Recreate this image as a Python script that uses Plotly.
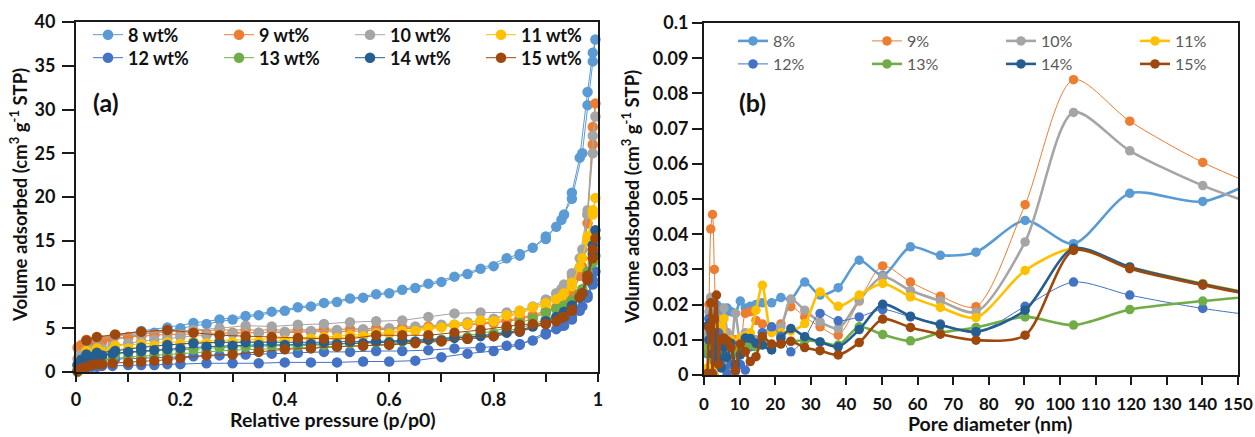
import plotly.graph_objects as go

W, H = 1255, 437

# ---------------- (a) nitrogen isotherms ----------------
P_ADS = [0.003, 0.01, 0.02, 0.03, 0.04, 0.05, 0.07, 0.1, 0.125, 0.15, 0.175, 0.2,
         0.25, 0.3, 0.35, 0.4, 0.45, 0.5, 0.55, 0.6, 0.65, 0.7, 0.75, 0.8, 0.85,
         0.9, 0.93, 0.95, 0.97, 0.98, 0.99, 0.995]
P_DES = [0.99, 0.98, 0.965, 0.95, 0.935, 0.92, 0.9, 0.875, 0.85, 0.825, 0.775,
         0.725, 0.675, 0.625, 0.575, 0.525, 0.475, 0.425, 0.375, 0.325, 0.275,
         0.225, 0.175, 0.125, 0.075, 0.04, 0.02]

ADS_8 = [0.8, 1.8, 2.5, 2.9, 3.2, 3.4, 3.7, 4.0, 4.3, 4.5, 4.7, 5.0, 5.5, 6.0, 6.5,
         7.0, 7.5, 8.0, 8.5, 9.0, 9.6, 10.3, 11.2, 12.1, 13.3, 15.2, 17.4, 19.8,
         25.0, 30.5, 35.5, 38.0]
DES_8 = [36.5, 32.0, 24.5, 20.5, 18.0, 16.6, 15.5, 14.2, 13.5, 13.0, 11.8, 10.9,
         10.1, 9.4, 8.9, 8.4, 7.9, 7.4, 6.9, 6.4, 6.0, 5.6, 5.1, 4.7, 4.2, 3.6, 3.0]

ADS_9 = [2.8, 3.1, 3.3, 3.4, 3.5, 3.6, 3.8, 4.0, 4.1, 4.2, 4.3, 4.3, 4.4, 4.5, 4.5,
         4.5, 4.6, 4.6, 4.7, 4.9, 5.0, 5.2, 5.4, 5.6, 6.0, 6.8, 7.6, 8.5, 12.0,
         18.0, 26.0, 30.7]
DES_9 = [28.0, 17.0, 11.0, 9.0, 8.0, 7.4, 7.0, 6.5, 6.2, 5.9, 5.6, 5.4, 5.2, 5.1,
         5.0, 4.9, 4.9, 4.8, 4.8, 4.8, 4.8, 4.7, 4.6, 4.4, 4.2, 3.9, 3.7]

ADS_10 = [1.5, 2.0, 2.3, 2.5, 2.6, 2.7, 3.0, 3.3, 3.5, 3.7, 3.8, 4.0, 4.2, 4.4, 4.5,
          4.6, 4.7, 4.8, 4.9, 5.0, 5.2, 5.4, 5.7, 6.1, 6.8, 8.0, 9.5, 11.0, 14.0,
          18.0, 25.0, 29.2]
DES_10 = [27.0, 18.5, 13.0, 11.3, 10.0, 9.0, 8.3, 7.5, 7.0, 6.8, 6.8, 6.7, 6.3, 5.9,
          5.8, 5.7, 5.5, 5.4, 5.2, 5.3, 5.0, 4.8, 4.6, 4.4, 4.1, 3.8, 3.5]

ADS_11 = [0.8, 1.4, 1.8, 2.0, 2.2, 2.3, 2.5, 2.7, 2.9, 3.0, 3.1, 3.2, 3.3, 3.4, 3.5,
          3.6, 3.8, 3.9, 4.1, 4.4, 4.7, 5.1, 5.5, 5.8, 6.7, 7.7, 8.6, 9.8, 13.0,
          15.5, 18.5, 19.9]
DES_11 = [18.0, 15.0, 12.0, 10.2, 9.0, 8.3, 7.9, 7.4, 7.0, 6.5, 5.9, 5.4, 5.0, 4.7,
          4.4, 4.2, 4.0, 3.9, 3.8, 3.7, 3.6, 3.5, 3.4, 3.2, 3.0, 2.7, 2.4]

ADS_12 = [0.2, 0.4, 0.5, 0.6, 0.6, 0.7, 0.7, 0.8, 0.8, 0.8, 0.9, 0.9, 1.0, 1.0, 1.0,
          1.1, 1.1, 1.1, 1.2, 1.2, 1.3, 1.7, 2.1, 2.4, 3.1, 4.5, 5.3, 6.3, 7.5,
          8.5, 10.0, 11.5]
DES_12 = [10.5, 8.8, 7.0, 6.0, 5.3, 4.9, 4.3, 3.6, 3.2, 3.0, 2.8, 2.7, 2.5, 2.4,
          2.4, 2.3, 2.3, 2.2, 2.1, 2.0, 1.9, 1.8, 1.7, 1.6, 1.5, 1.4, 1.2]

ADS_13 = [0.0, 0.5, 0.9, 1.1, 1.2, 1.3, 1.5, 1.7, 1.8, 1.9, 2.0, 2.1, 2.3, 2.5, 2.6,
          2.7, 2.8, 2.9, 3.0, 3.2, 3.4, 3.7, 4.0, 4.4, 5.0, 6.0, 6.8, 7.8, 9.5,
          11.0, 12.5, 13.3]
DES_13 = [13.0, 11.5, 9.0, 8.2, 7.6, 7.2, 6.8, 6.1, 5.6, 5.0, 4.4, 4.0, 3.7, 3.5,
          3.4, 3.3, 3.1, 3.0, 3.0, 2.9, 2.8, 2.6, 2.5, 2.3, 2.1, 1.9, 1.6]

ADS_14 = [0.8, 1.4, 1.6, 1.7, 1.8, 1.9, 2.1, 2.3, 2.4, 2.5, 2.6, 2.7, 2.9, 3.0, 3.1,
          3.1, 3.2, 3.2, 3.3, 3.4, 3.5, 3.6, 3.8, 4.1, 4.6, 5.5, 6.3, 7.3, 9.0,
          10.5, 13.5, 16.2]
DES_14 = [14.5, 11.0, 8.5, 7.6, 6.9, 6.3, 5.8, 5.2, 4.8, 4.5, 4.1, 3.9, 3.7, 3.6,
          3.5, 3.5, 3.4, 3.4, 3.4, 3.4, 3.4, 3.3, 3.1, 2.8, 2.4, 2.2, 2.0]

ADS_15 = [0.1, 0.4, 0.6, 0.8, 0.9, 0.9, 1.0, 1.1, 1.2, 1.3, 1.4, 1.6, 1.9, 2.0, 2.3,
          2.6, 2.7, 2.9, 3.0, 3.1, 3.3, 3.5, 3.8, 4.1, 4.7, 5.5, 6.2, 7.0, 9.0,
          10.5, 13.0, 15.3]
DES_15 = [14.0, 11.0, 8.6, 7.1, 6.3, 5.8, 5.5, 5.5, 5.4, 5.2, 4.8, 4.5, 4.2, 4.2,
          4.2, 3.8, 3.8, 3.9, 4.0, 4.1, 4.2, 4.5, 4.8, 4.6, 4.3, 4.0, 3.6]

# ---------------- (b) pore size distributions ----------------
PORE_D = [1.0, 1.4, 1.9, 2.4, 2.9, 3.5, 4.1, 4.8, 5.6, 6.5, 7.6, 8.8, 10.2, 11.6,
          13.0, 14.6, 16.4, 19.0, 21.6, 24.4, 28.3, 32.6, 37.7, 43.6, 50.2, 58.0,
          66.4, 76.4, 90.2, 103.8, 119.6, 140.1, 162.0]

PSD_8 = [0.010, 0.016, 0.022, 0.019, 0.015, 0.020, 0.018, 0.019, 0.017, 0.019,
         0.018, 0.0175, 0.021, 0.019, 0.0195, 0.020, 0.0205, 0.0205, 0.022, 0.0215,
         0.0264, 0.0227, 0.0248, 0.0326, 0.0283, 0.0364, 0.034, 0.0349, 0.0439,
         0.0373, 0.0516, 0.0493, 0.059]
PSD_9 = [0.008, 0.020, 0.0415, 0.0456, 0.030, 0.012, 0.006, 0.004, 0.009, 0.012,
         0.007, 0.010, 0.008, 0.0175, 0.018, 0.0155, 0.0145, 0.0135, 0.0145, 0.0194,
         0.0165, 0.0137, 0.0113, 0.021, 0.031, 0.0264, 0.0224, 0.0194, 0.0484,
         0.0839, 0.0721, 0.0604, 0.051]
PSD_10 = [0.012, 0.018, 0.022, 0.014, 0.018, 0.010, 0.016, 0.012, 0.019, 0.012,
          0.008, 0.0175, 0.010, 0.012, 0.011, 0.010, 0.012, 0.0125, 0.0137, 0.0215,
          0.0184, 0.0151, 0.0132, 0.0212, 0.0279, 0.024, 0.021, 0.0179, 0.0378,
          0.0746, 0.0637, 0.0538, 0.046]
PSD_11 = [0.002, 0.008, 0.015, 0.004, 0.0, 0.010, 0.0137, 0.008, 0.016, 0.003,
          0.010, 0.006, 0.0105, 0.011, 0.012, 0.0184, 0.0255, 0.012, 0.012, 0.0125,
          0.0146, 0.0236, 0.0195, 0.0227, 0.026, 0.0222, 0.0192, 0.0163, 0.0297,
          0.0359, 0.0307, 0.026, 0.0215]
PSD_12 = [0.006, 0.016, 0.012, 0.008, 0.004, 0.0078, 0.012, 0.004, 0.002, 0.0005,
          0.003, 0.001, 0.003, 0.0014, 0.008, 0.009, 0.012, 0.0137, 0.011, 0.0066,
          0.0105, 0.0175, 0.0154, 0.0165, 0.0186, 0.0165, 0.0145, 0.012, 0.0195,
          0.0264, 0.0227, 0.0189, 0.016]
PSD_13 = [0.0078, 0.006, 0.009, 0.005, 0.008, 0.004, 0.009, 0.006, 0.008, 0.005,
          0.008, 0.006, 0.007, 0.008, 0.0085, 0.008, 0.009, 0.0085, 0.009, 0.0095,
          0.0098, 0.0094, 0.0085, 0.0137, 0.0115, 0.0097, 0.012, 0.0135, 0.0165,
          0.0142, 0.0186, 0.021, 0.023]
PSD_14 = [0.014, 0.010, 0.015, 0.006, 0.012, 0.004, 0.010, 0.002, 0.008, 0.005,
          0.009, 0.003, 0.0057, 0.0105, 0.0104, 0.009, 0.0085, 0.0071, 0.0103, 0.0132,
          0.0109, 0.0094, 0.008, 0.0129, 0.0201, 0.0167, 0.0142, 0.0123, 0.0184,
          0.036, 0.0307, 0.0258, 0.0215]
PSD_15 = [0.0005, 0.0135, 0.0205, 0.0005, 0.016, 0.0227, 0.003, 0.010, 0.0105,
          0.0097, 0.0078, 0.0013, 0.0088, 0.0066, 0.0038, 0.0052, 0.0109, 0.0088,
          0.0088, 0.0096, 0.0078, 0.0069, 0.0057, 0.0092, 0.0159, 0.0135, 0.0116,
          0.0099, 0.0113, 0.0354, 0.0302, 0.0255, 0.0212]

LOADINGS = ["8", "9", "10", "11", "12", "13", "14", "15"]
COLORS = ["#5B9BD5", "#ED7D31", "#A5A5A5", "#FFC000",
          "#4472C4", "#70AD47", "#255E91", "#9E480E"]
ISO_ADS = [ADS_8, ADS_9, ADS_10, ADS_11, ADS_12, ADS_13, ADS_14, ADS_15]
ISO_DES = [DES_8, DES_9, DES_10, DES_11, DES_12, DES_13, DES_14, DES_15]
PSD = [PSD_8, PSD_9, PSD_10, PSD_11, PSD_12, PSD_13, PSD_14, PSD_15]
PSD_WIDTH = [2.6, 1.0, 2.6, 2.6, 1.0, 2.6, 2.6, 2.6]

FONT = "Lato"


def px_x(px):
    return px / W


def px_y(py):
    return 1 - py / H


fig = go.Figure()

for i, (lab, col) in enumerate(zip(LOADINGS, COLORS)):
    fig.add_trace(go.Scatter(
        x=P_ADS + P_DES, y=ISO_ADS[i] + ISO_DES[i],
        mode="lines+markers", name=f"{lab} wt%",
        line=dict(color=col, width=1),
        marker=dict(color=col, size=10.5, line=dict(width=0)),
        cliponaxis=False,
        xaxis="x", yaxis="y",
        legend="legend" if i < 4 else "legend2",
    ))

for i, (lab, col) in enumerate(zip(LOADINGS, COLORS)):
    fig.add_trace(go.Scatter(
        x=PORE_D, y=PSD[i],
        mode="lines+markers", name=f"{lab}%",
        line=dict(color=col, width=PSD_WIDTH[i], shape="spline", smoothing=0.8),
        marker=dict(color=col, size=9.5, line=dict(width=0)),
        xaxis="x2", yaxis="y2",
        legend="legend3" if i < 4 else "legend4",
    ))

tick_font = dict(family=FONT, size=18, color="#111111", weight="bold")
axis_common = dict(
    showgrid=False, zeroline=False, showline=True, linecolor="#1a1a1a",
    linewidth=2, mirror=True, ticks="outside", tickcolor="#1a1a1a",
    tickwidth=1.5, tickfont=tick_font, automargin=False,
)

leg_a = dict(orientation="h", font=dict(family=FONT, size=18, color="#111111",
                                        weight="bold"),
             bgcolor="rgba(0,0,0,0)", xanchor="left", yanchor="middle",
             entrywidth=86, entrywidthmode="pixels", itemclick=False,
             traceorder="normal")
leg_b = dict(orientation="h", font=dict(family=FONT, size=16, color="#595959"),
             bgcolor="rgba(0,0,0,0)", xanchor="left", yanchor="middle",
             entrywidth=89, entrywidthmode="pixels", itemclick=False,
             traceorder="normal")

fig.update_layout(
    width=W, height=H,
    margin=dict(l=0, r=0, t=0, b=0, autoexpand=False),
    paper_bgcolor="white", plot_bgcolor="white",
    font=dict(family=FONT),
    xaxis=dict(domain=[px_x(76), px_x(598)], range=[0, 1], dtick=0.2,
               ticklen=8,
               minor=dict(dtick=0.1, ticks="outside", ticklen=8,
                          tickcolor="#1a1a1a", tickwidth=1.5),
               ticklabelstandoff=2, anchor="y", **axis_common),
    yaxis=dict(domain=[px_y(372), px_y(22)], range=[0, 40], dtick=5,
               ticklen=12, ticklabelstandoff=3, anchor="x", **axis_common),
    xaxis2=dict(domain=[px_x(704), px_x(1238)], range=[0, 150], dtick=10,
                ticklen=8, ticklabelstandoff=5, anchor="y2",
                **{**axis_common,
                   "tickfont": dict(family=FONT, size=17, color="#111111",
                                    weight="bold")}),
    yaxis2=dict(domain=[px_y(375), px_y(23)], range=[0, 0.1], dtick=0.01,
                ticklen=10, anchor="x2", **axis_common),
    legend=dict(x=px_x(88), y=px_y(35), **leg_a),
    legend2=dict(x=px_x(88), y=px_y(58), **leg_a),
    legend3=dict(x=px_x(733), y=px_y(41), **leg_b),
    legend4=dict(x=px_x(733), y=px_y(64), **leg_b),
    showlegend=True,
)

title_font = dict(family=FONT, size=19.5, color="#111111", weight="bold")
ytitle_font = dict(family=FONT, size=18.5, color="#111111", weight="bold")
ytitle = "Volume adsorbed (cm<sup>3</sup> g<sup>-1</sup> STP)"
label_font = dict(family=FONT, size=25, color="#111111", weight="bold")
annotations = [
    dict(text="(a)", x=px_x(106), y=px_y(102), font=label_font),
    dict(text="(b)", x=px_x(752), y=px_y(102), font=label_font),
    dict(text=ytitle, x=px_x(18), y=px_y(195), textangle=-90, font=ytitle_font),
    dict(text=ytitle, x=px_x(630), y=px_y(197), textangle=-90, font=ytitle_font),
    dict(text="Relative pressure (p/p0)", x=px_x(333), y=px_y(419),
         font=title_font),
    dict(text="Pore diameter (nm)", x=px_x(990), y=px_y(423), font=title_font),
]
for a in annotations:
    a.update(xref="paper", yref="paper", showarrow=False,
             xanchor="center", yanchor="middle")
fig.update_layout(annotations=annotations)

fig.write_html("out.html")
